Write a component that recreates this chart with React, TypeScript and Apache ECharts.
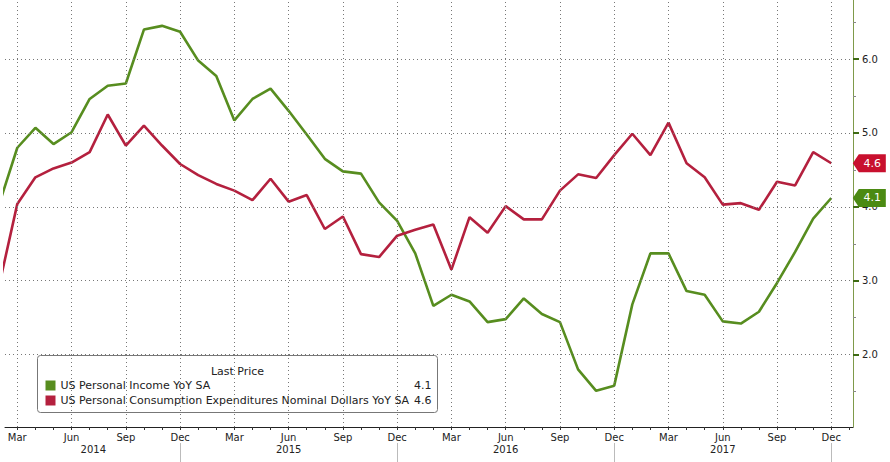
import React, { useEffect, useRef } from 'react';
import * as echarts from 'echarts';

// Monthly data, index 0 = Feb 2014 ... index 46 = Dec 2017
const MONTHS = ['Jan', 'Feb', 'Mar', 'Apr', 'May', 'Jun', 'Jul', 'Aug', 'Sep', 'Oct', 'Nov', 'Dec'];
const START_MONTH = 1; // Feb (0-based)

const incomeYoY = [
  4.04, 4.80, 5.07, 4.85, 5.01, 5.46, 5.64, 5.67, 6.40, 6.45, 6.37,
  5.98, 5.77, 5.17, 5.46, 5.60, 5.30, 4.98, 4.65, 4.48, 4.45, 4.06, 3.81,
  3.37, 2.66, 2.81, 2.72, 2.44, 2.48, 2.76, 2.55, 2.44, 1.80, 1.51, 1.58,
  2.68, 3.37, 3.37, 2.86, 2.81, 2.45, 2.42, 2.58, 2.97, 3.39, 3.84, 4.12,
];

const pceYoY = [
  2.94, 4.04, 4.40, 4.52, 4.60, 4.74, 5.25, 4.83, 5.10, 4.83, 4.58,
  4.43, 4.31, 4.22, 4.09, 4.38, 4.07, 4.16, 3.70, 3.87, 3.36, 3.32, 3.61,
  3.69, 3.76, 3.15, 3.86, 3.65, 4.01, 3.83, 3.83, 4.22, 4.44, 4.39, 4.70,
  4.99, 4.70, 5.14, 4.59, 4.40, 4.03, 4.05, 3.96, 4.34, 4.29, 4.74, 4.59,
];

const SERIES_NAMES = [
  'US Personal Income YoY SA',
  'US Personal Consumption Expenditures Nominal Dollars YoY SA',
];
const LEGEND_TITLE = 'Last Price';
const YEARS = ['2014', '2015', '2016', '2017'];
const YEAR_LABEL_POS = [5.2, 16, 28, 40];
const Y_MAJOR = [2, 3, 4, 5, 6];
const Y_MINOR = [1.5, 2.5, 3.5, 4.5, 5.5, 6.5];

const GREEN = '#578d1f';
const RED = '#b4203e';
const TAG_GREEN = '#4b8a12';
const TAG_RED = '#c8102e';
const FONT = 'DejaVu Sans';

const monthOf = (i: number) => (START_MONTH + i) % 12;

export default function App() {
  const ref = useRef<HTMLDivElement>(null);

  useEffect(() => {
    if (!ref.current) return;
    const chart = echarts.init(ref.current, null, { renderer: 'svg' });

    const n = incomeYoY.length;
    const tickIdx: number[] = [];
    for (let i = 1; i <= n; i++) tickIdx.push(i);
    const labelIdx = tickIdx.filter((i) => i < n && [2, 5, 8, 11].includes(monthOf(i)));
    const decIdx = tickIdx.filter((i) => i < n && monthOf(i) === 11);

    const incomeData = incomeYoY.map((v, i) => [i, v]);
    const pceData = pceYoY.map((v, i) => [i, v]);

    const tagPath = 'path://M0,9 L6,0 L33,0 L33,18 L6,18 Z';
    const mkTag = (data: number[][], color: string) => ({
      symbol: tagPath,
      symbolSize: [33, 18],
      symbolKeepAspect: false,
      symbolOffset: [38, 0],
      silent: true,
      itemStyle: { color },
      label: {
        show: true,
        position: 'inside',
        offset: [3, 0],
        color: '#fff',
        fontFamily: FONT,
        fontSize: 11,
        formatter: (p: any) => Number(p.value).toFixed(1),
      },
      data: [{ coord: data[data.length - 1], value: data[data.length - 1][1] }],
    });

    const xCommon = { type: 'value', min: 0.32, max: 47.2, gridIndex: 0 };

    const lastIncome = incomeYoY[n - 1].toFixed(1);
    const lastPce = pceYoY[n - 1].toFixed(1);

    chart.setOption({
      animation: false,
      backgroundColor: '#fff',
      grid: { left: 5, right: 37, top: 0, bottom: 35, containLabel: false },
      xAxis: [
        {
          ...xCommon,
          position: 'bottom',
          axisLine: { show: true, onZero: false, lineStyle: { color: '#222', width: 1 } },
          axisTick: { show: true, customValues: tickIdx, length: 3, lineStyle: { color: '#333' } },
          axisLabel: {
            customValues: labelIdx,
            formatter: (v: number) => MONTHS[monthOf(Math.round(v))],
            color: '#222',
            fontFamily: FONT,
            fontSize: 10,
            margin: 5,
          },
          splitLine: { show: false },
        },
        {
          ...xCommon,
          position: 'bottom',
          axisLine: { show: false },
          axisTick: { show: false },
          axisLabel: {
            customValues: YEAR_LABEL_POS,
            formatter: (v: number) => YEARS[YEAR_LABEL_POS.indexOf(v)] ?? '',
            color: '#222',
            fontFamily: FONT,
            fontSize: 10,
            margin: 17,
          },
          splitLine: { show: false },
        },
        {
          ...xCommon,
          position: 'bottom',
          offset: 16,
          axisLine: { show: false },
          axisTick: { show: true, customValues: decIdx, length: 20, lineStyle: { color: '#bbb' } },
          axisLabel: { show: false },
          splitLine: { show: false },
        },
      ],
      yAxis: [
        {
          type: 'value',
          position: 'right',
          min: 1.02,
          max: 6.8,
          axisLine: { show: true, lineStyle: { color: '#7f9a4a', width: 1 } },
          axisTick: { show: true, customValues: Y_MAJOR, length: 6, lineStyle: { color: '#3f6b14', width: 2 } },
          axisLabel: {
            customValues: Y_MAJOR,
            formatter: (v: number) => v.toFixed(1),
            color: '#222',
            fontFamily: FONT,
            fontSize: 10,
            margin: 9,
          },
          splitLine: { show: false },
        },
        {
          type: 'value',
          position: 'right',
          min: 1.02,
          max: 6.8,
          axisLine: { show: false },
          axisTick: { show: true, customValues: Y_MINOR, length: 3, lineStyle: { color: '#888' } },
          axisLabel: { show: false },
          splitLine: { show: false },
        },
      ],
      series: [
        {
          type: 'line',
          name: 'grid',
          data: [],
          z: 1,
          silent: true,
          markLine: {
            silent: true,
            symbol: ['none', 'none'],
            label: { show: false },
            lineStyle: { color: '#777', width: 1, type: [1, 3] },
            data: [
              ...Y_MAJOR.map((v) => ({ yAxis: v })),
              ...labelIdx.map((v) => ({ xAxis: v })),
            ],
          },
        },
        {
          type: 'line',
          name: SERIES_NAMES[0],
          data: incomeData,
          showSymbol: false,
          symbol: 'none',
          z: 3,
          lineStyle: { color: GREEN, width: 2.6 },
          itemStyle: { color: GREEN },
          markPoint: mkTag(incomeData, TAG_GREEN),
        },
        {
          type: 'line',
          name: SERIES_NAMES[1],
          data: pceData,
          showSymbol: false,
          symbol: 'none',
          z: 3,
          lineStyle: { color: RED, width: 2.6 },
          itemStyle: { color: RED },
          markPoint: mkTag(pceData, TAG_RED),
        },
      ],
      graphic: [
        {
          type: 'group',
          left: 37,
          top: 355,
          z: 100,
          children: [
            {
              type: 'rect',
              shape: { x: 0, y: 0, width: 400, height: 57, r: 3 },
              style: { fill: '#fff', stroke: '#777', lineWidth: 1 },
            },
            {
              type: 'text',
              x: 200,
              y: 16,
              style: { text: LEGEND_TITLE, fill: '#222', font: `11px "${FONT}"`, align: 'center', verticalAlign: 'middle' },
            },
            {
              type: 'rect',
              shape: { x: 8, y: 25, width: 10, height: 10 },
              style: { fill: GREEN },
            },
            {
              type: 'text',
              x: 23,
              y: 30,
              style: { text: SERIES_NAMES[0], fill: '#222', font: `11px "${FONT}"`, verticalAlign: 'middle' },
            },
            {
              type: 'text',
              x: 394,
              y: 30,
              style: { text: lastIncome, fill: '#222', font: `11px "${FONT}"`, align: 'right', verticalAlign: 'middle' },
            },
            {
              type: 'rect',
              shape: { x: 8, y: 40, width: 10, height: 10 },
              style: { fill: RED },
            },
            {
              type: 'text',
              x: 23,
              y: 45,
              style: { text: SERIES_NAMES[1], fill: '#222', font: `11px "${FONT}"`, verticalAlign: 'middle' },
            },
            {
              type: 'text',
              x: 394,
              y: 45,
              style: { text: lastPce, fill: '#222', font: `11px "${FONT}"`, align: 'right', verticalAlign: 'middle' },
            },
          ],
        },
      ],
    });

    return () => chart.dispose();
  }, []);

  return (
    <div
      ref={ref}
      style={{ position: 'fixed', left: 0, top: 0, width: 890, height: 462, background: '#fff' }}
    />
  );
}
